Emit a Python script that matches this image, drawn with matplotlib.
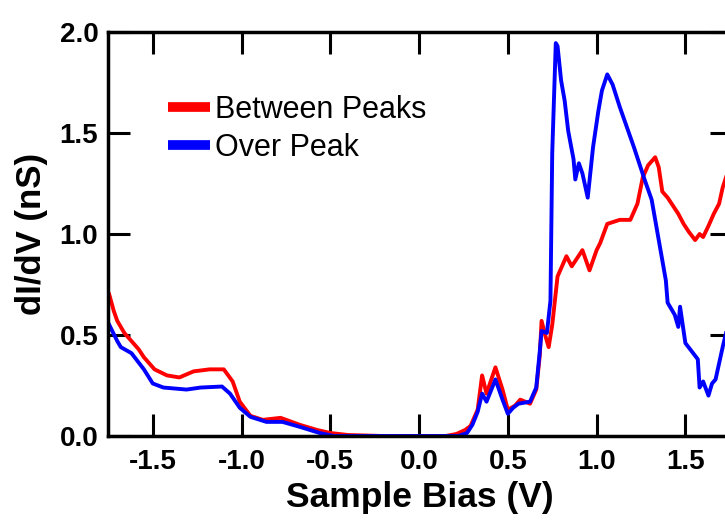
import matplotlib
matplotlib.use("Agg")
import matplotlib.pyplot as plt

# Between Peaks (red)
bias_between = [-1.745, -1.72, -1.70, -1.66, -1.62, -1.58, -1.55, -1.49, -1.42, -1.35,
                -1.27, -1.18, -1.10, -1.05, -1.01, -0.95, -0.88, -0.78, -0.67, -0.575,
                -0.50, -0.40, -0.20, 0.0, 0.15, 0.21, 0.26, 0.29, 0.33, 0.355,
                0.38, 0.43, 0.47, 0.50, 0.54, 0.57, 0.625, 0.66, 0.68, 0.69,
                0.71, 0.73, 0.75, 0.78, 0.83, 0.86, 0.92, 0.96, 1.00, 1.02,
                1.06, 1.13, 1.19, 1.23, 1.26, 1.29, 1.33, 1.35, 1.37, 1.40,
                1.43, 1.46, 1.49, 1.52, 1.555, 1.58, 1.60, 1.63, 1.66, 1.69,
                1.71, 1.74]
didv_between = [0.70, 0.62, 0.57, 0.51, 0.47, 0.43, 0.39, 0.33, 0.30, 0.29,
                0.32, 0.33, 0.33, 0.27, 0.17, 0.10, 0.08, 0.09, 0.055, 0.03,
                0.015, 0.005, 0.0, 0.0, 0.0, 0.01, 0.03, 0.05, 0.13, 0.30,
                0.21, 0.34, 0.23, 0.13, 0.15, 0.18, 0.16, 0.23, 0.40, 0.57,
                0.50, 0.44, 0.55, 0.79, 0.89, 0.84, 0.92, 0.82, 0.92, 0.955,
                1.05, 1.07, 1.07, 1.15, 1.28, 1.34, 1.38, 1.33, 1.21, 1.18,
                1.14, 1.10, 1.05, 1.01, 0.97, 1.00, 0.985, 1.04, 1.10, 1.15,
                1.23, 1.31]

# Over Peak (blue)
bias_over = [-1.745, -1.70, -1.68, -1.62, -1.55, -1.50, -1.44, -1.31, -1.23, -1.11,
             -1.065, -1.01, -0.95, -0.86, -0.77, -0.67, -0.56, -0.48, 0.0, 0.22,
             0.27, 0.30, 0.33, 0.355, 0.38, 0.43, 0.47, 0.50, 0.53, 0.56,
             0.625, 0.66, 0.68, 0.69, 0.72, 0.74, 0.75, 0.77, 0.78, 0.80,
             0.82, 0.84, 0.87, 0.88, 0.90, 0.92, 0.95, 0.98, 1.01, 1.03,
             1.06, 1.09, 1.13, 1.17, 1.21, 1.27, 1.31, 1.35, 1.39, 1.40,
             1.44, 1.46, 1.47, 1.50, 1.57, 1.58, 1.60, 1.63, 1.65, 1.67,
             1.71, 1.74]
didv_over = [0.55, 0.47, 0.44, 0.41, 0.33, 0.26, 0.24, 0.23, 0.24, 0.245,
             0.21, 0.14, 0.095, 0.07, 0.07, 0.045, 0.015, 0.0, 0.0, 0.0,
             0.015, 0.055, 0.12, 0.21, 0.17, 0.28, 0.18, 0.11, 0.14, 0.16,
             0.17, 0.24, 0.42, 0.52, 0.51, 0.67, 1.40, 1.945, 1.93, 1.76,
             1.66, 1.51, 1.37, 1.27, 1.35, 1.30, 1.18, 1.43, 1.61, 1.71,
             1.79, 1.74, 1.63, 1.53, 1.43, 1.27, 1.17, 0.97, 0.77, 0.66,
             0.60, 0.54, 0.64, 0.46, 0.38, 0.24, 0.27, 0.20, 0.26, 0.28,
             0.44, 0.55]

xticks = [-1.5, -1.0, -0.5, 0.0, 0.5, 1.0, 1.5]
yticks = [0.0, 0.5, 1.0, 1.5, 2.0]

plt.rcParams['font.family'] = ['Liberation Sans', 'DejaVu Sans']

fig = plt.figure(figsize=(7.25, 5.2), dpi=100)
ax = fig.add_axes([0.149, 0.1615, 0.861, 0.777])

ax.plot(bias_between, didv_between, color='#ff0000', lw=2.8, label='Between Peaks')
ax.plot(bias_over, didv_over, color='#0000ff', lw=2.8, label='Over Peak')

ax.set_xlim(-1.752, 1.764)
ax.set_ylim(0, 2.0)
ax.set_xticks(xticks)
ax.set_yticks(yticks)
ax.set_xticklabels([f"{t:.1f}" for t in xticks])
ax.set_yticklabels([f"{t:.1f}" for t in yticks])

ax.tick_params(direction='in', length=16, width=2.2, top=True, right=True,
               labelsize=20, pad=7)
ax.tick_params(axis='x', pad=9)
for lab in ax.get_xticklabels() + ax.get_yticklabels():
    lab.set_fontweight('bold')
for sp in ax.spines.values():
    sp.set_linewidth(2.5)

ax.set_xlabel('Sample Bias (V)', fontsize=25.5, fontweight='bold', labelpad=5)
ax.set_ylabel('dI/dV (nS)', fontsize=25, fontweight='bold', labelpad=8)

leg = ax.legend(loc='upper left', bbox_to_anchor=(0.096, 0.845), frameon=False,
                fontsize=22, handlelength=1.38, handletextpad=0.15,
                labelspacing=0.28, borderpad=0, borderaxespad=0)
for line in leg.get_lines():
    line.set_linewidth(7)
    line.set_solid_capstyle('butt')

fig.savefig('out.png', dpi=100)
